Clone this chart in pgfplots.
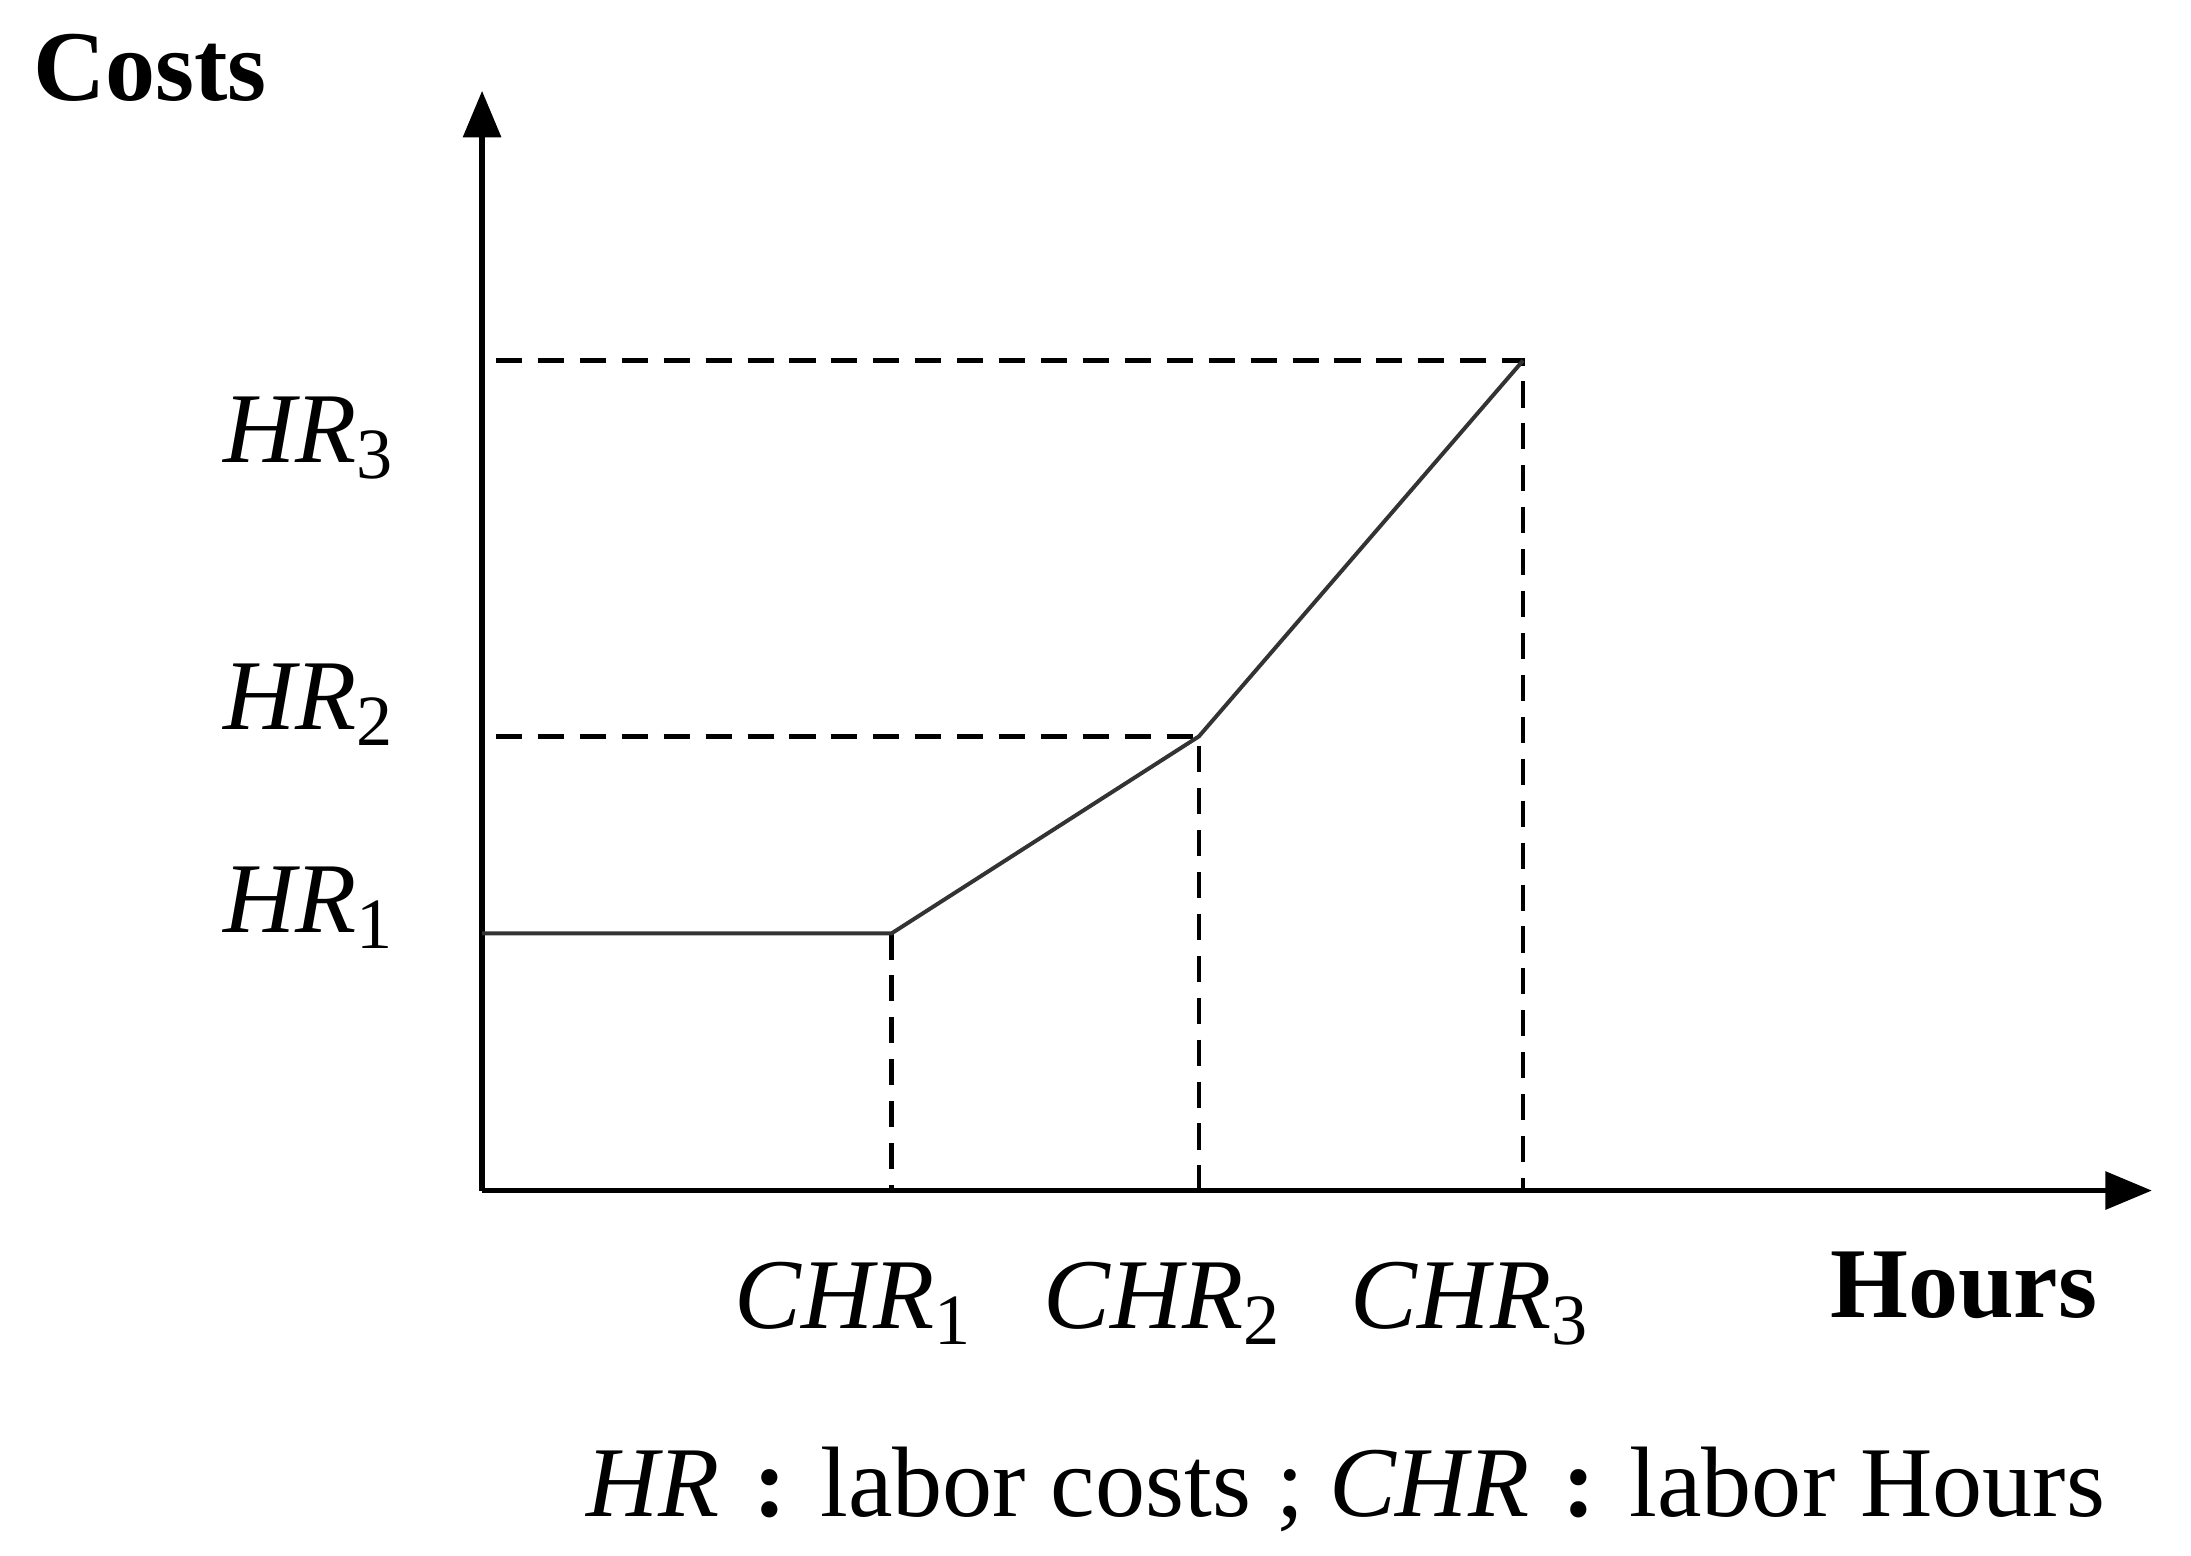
\documentclass[border=0pt]{standalone}
\usepackage{fontspec}
\setmainfont{Liberation Serif}
\usepackage{pgfplots}
\pgfplotsset{compat=1.18}
\usetikzlibrary{arrows.meta}
\newcommand{\lbl}{\fontsize{21.5}{25}\selectfont}
\newcommand{\sub}[1]{\raisebox{-0.35ex}{\fontsize{15.5}{16}\selectfont #1}}
\newcommand{\wcolon}{\makebox[1em][c]{\textbf{:}}}
\begin{document}
\begin{tikzpicture}
\begin{axis}[
  scale only axis,
  width=358.5pt, height=236.1pt,
  xmin=0, xmax=1195, ymin=0, ymax=787,
  axis lines=left,
  every outer x axis line/.append style={line width=1.2pt,-{Triangle[width=8pt,length=10pt]}},
  every outer y axis line/.append style={line width=1.2pt,-{Triangle[width=8pt,length=10pt]}},
  every inner x axis line/.append style={line width=1.2pt,-{Triangle[width=8pt,length=10pt]}},
  every inner y axis line/.append style={line width=1.2pt,-{Triangle[width=8pt,length=10pt]}},
  ticks=none,
  clip=false,
]
% dashed guides
\addplot[black, line width=1pt, dash pattern=on 5.6pt off 3.4pt] coordinates {(10,594) (745,594) (745,0)};
\addplot[black, line width=1pt, dash pattern=on 5.6pt off 3.4pt] coordinates {(10,325) (513,325) (513,0)};
\addplot[black, line width=1pt, dash pattern=on 5.6pt off 3.4pt] coordinates {(293,184) (293,0)};
% cost curve
\addplot[black!80, line width=0.85pt] coordinates {(0,184) (293,184) (513,325) (745,594)};

\node[anchor=base west, font=\bfseries\lbl] at (axis cs:-333,780) {Costs};
\node[anchor=base west, font=\bfseries\lbl] at (axis cs:953,-91) {Hours};
\node[anchor=base west, font=\lbl] at (axis cs:-197,521) {\textit{HR}\sub{3}};
\node[anchor=base west, font=\lbl] at (axis cs:-197,330) {\textit{HR}\sub{2}};
\node[anchor=base west, font=\lbl] at (axis cs:-197,185) {\textit{HR}\sub{1}};
\node[anchor=base west, font=\lbl] at (axis cs:169,-99) {\textit{CHR}\sub{1}};
\node[anchor=base west, font=\lbl] at (axis cs:390,-99) {\textit{CHR}\sub{2}};
\node[anchor=base west, font=\lbl] at (axis cs:610,-99) {\textit{CHR}\sub{3}};
\node[anchor=base west, font=\lbl] at (axis cs:63,-233)
  {\textit{HR}\wcolon labor costs ; \textit{CHR}\wcolon labor Hours};
% page frame
\path (axis cs:-345,-261) (axis cs:1223,852);
\end{axis}
\end{tikzpicture}
\end{document}
